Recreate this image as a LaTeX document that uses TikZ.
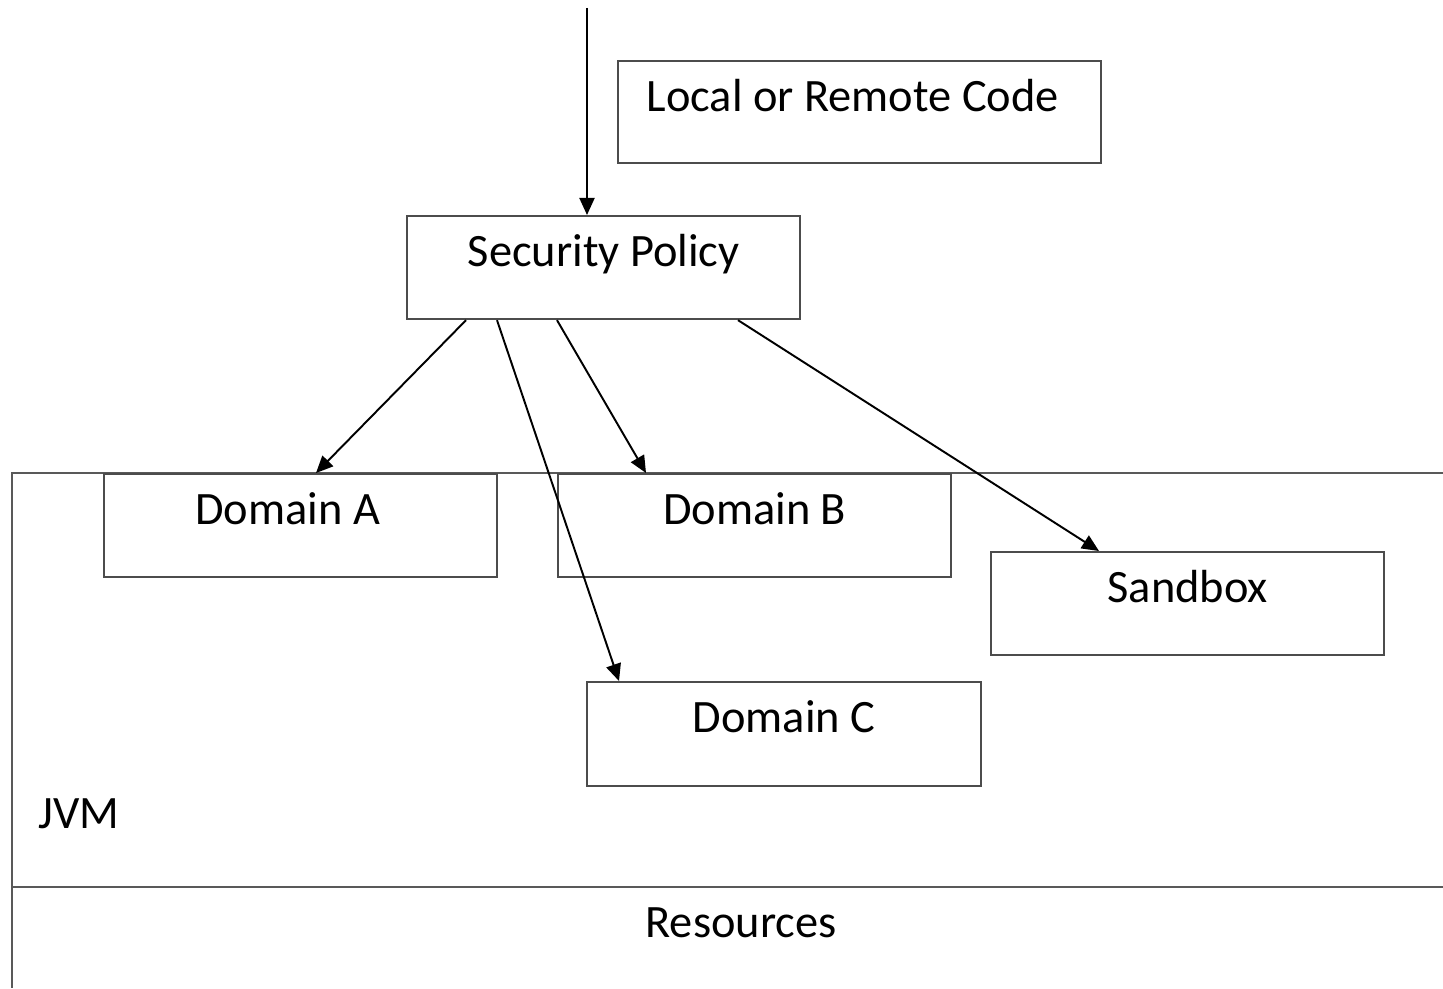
\documentclass[tikz,border=0pt]{standalone}
\usepackage{fontspec}
\setmainfont{Carlito}
\usepackage{tikz}
\usetikzlibrary{arrows.meta,calc}

\tikzset{
  box/.style={draw=black!70, line width=0.6pt, inner sep=0pt, anchor=north west,
    minimum width=3.93cm, text height=0.5cm, text depth=0.53cm},
  flow/.style={draw=black, line width=0.55pt, -{Triangle[length=0.17cm,width=0.15cm]}},
  frame/.style={draw=black!65, line width=0.6pt}
}

\begin{document}
\begin{tikzpicture}[x=0.01cm, y=-0.01cm, font=\fontsize{13.2}{16}\selectfont]
\useasboundingbox (0,0) rectangle (1443,988);

% jvm and resources
\draw[frame] (1443,473) -- (12,473) -- (12,988);
\draw[frame] (12,887) -- (1443,887);
\draw (38,828)  node (jvm) [anchor=base west, inner sep=0pt] {JVM};
\draw (741,937) node (res) [anchor=base, inner sep=0pt] {Resources};

% code and policy
\draw (617,60)  node (code) [box, minimum width=4.83cm, text depth=0.52cm] {Local or Remote Code\hspace{0.14cm}\mbox{}};
\draw (406,215) node (secpol) [box] {Security Policy};
\coordinate (entry) at (587,8);
\draw[flow] (entry) -- ($(secpol.north west)+(181,0)$);

% domains
\draw (103,473) node (doma) [box] {Domain A\hspace{0.26cm}\mbox{}};
\draw (557,473) node (domb) [box] {Domain B};
\draw (586,681) node (domc) [box, minimum width=3.94cm, text depth=0.54cm] {Domain C};
\draw (990,551) node (sandbox) [box] {Sandbox};

\draw[flow] ($(secpol.south west)+(60,0)$)  -- ($(doma.north west)+(213,0)$);
\draw[flow] ($(secpol.south west)+(91,0)$)  -- ($(domc.north west)+(33,0)$);
\draw[flow] ($(secpol.south west)+(151,0)$) -- ($(domb.north west)+(89,0)$);
\draw[flow] ($(secpol.south west)+(332,0)$) -- ($(sandbox.north west)+(109,0)$);
\end{tikzpicture}
\end{document}
